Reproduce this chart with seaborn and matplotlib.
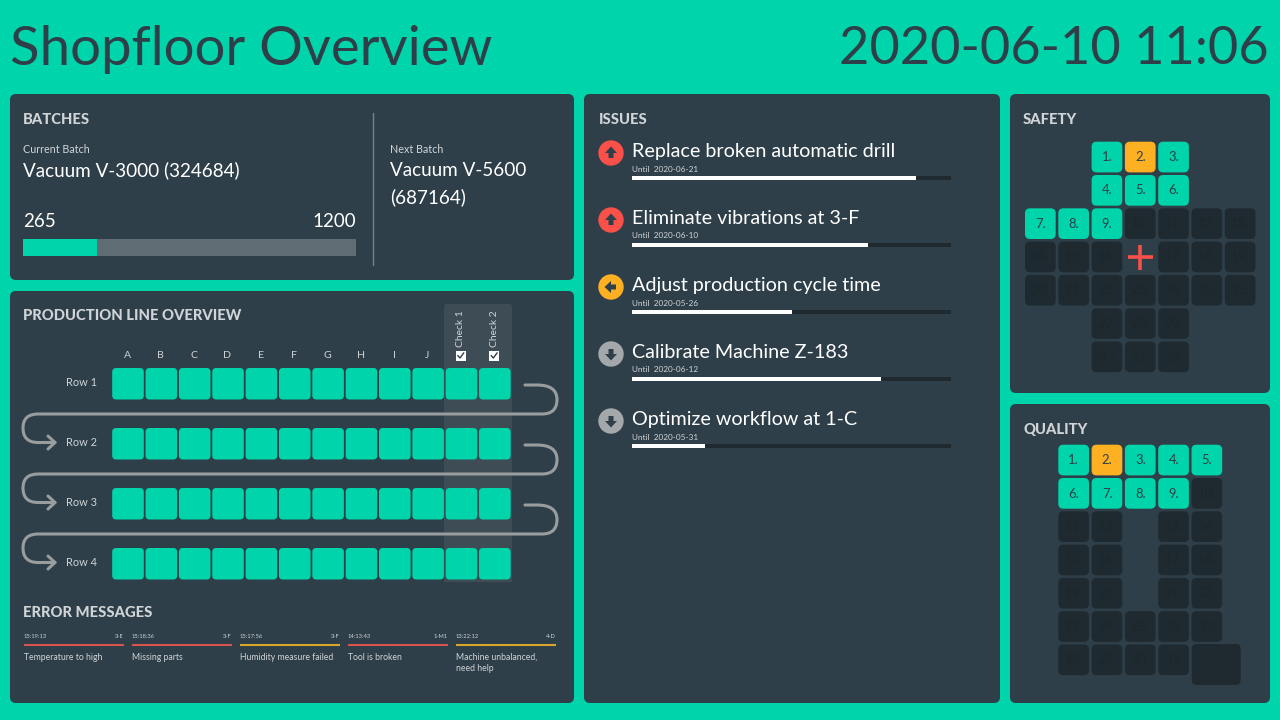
import matplotlib
matplotlib.use("Agg")
import matplotlib.pyplot as plt
import seaborn as sns
from matplotlib.patches import FancyBboxPatch, Circle, Polygon, PathPatch, Rectangle
from matplotlib.path import Path

# data
batch_done = 265
batch_total = 1200
columns = ["A", "B", "C", "D", "E", "F", "G", "H", "I", "J", "Check 1", "Check 2"]
row_names = ["Row 1", "Row 2", "Row 3", "Row 4"]
err_times = ["15:19:13", "15:18:36", "15:17:56", "14:13:43", "13:22:12"]
err_codes = ["3-E", "3-F", "3-F", "1-M1", "4-D"]
err_texts = ["Temperature to high", "Missing parts", "Humidity measure failed",
             "Tool is broken", "Machine unbalanced,\nneed help"]
err_levels = ["red", "red", "yellow", "red", "yellow"]
issue_names = ["Replace broken automatic drill", "Eliminate vibrations at 3-F",
               "Adjust production cycle time", "Calibrate Machine Z-183",
               "Optimize workflow at 1-C"]
issue_dates = ["2020-06-21", "2020-06-10", "2020-05-26", "2020-06-12", "2020-05-31"]
issue_progress = [89, 74, 50, 78, 23]
issue_prio = ["up", "up", "left", "down", "down"]
# g = ok, o = warning, d = not reached yet, + = marker, . = empty
safety_rows = ["..gog..", "..ggg..", "gggdddd", "ddd+ddd", "ddddddd", "..ddd..", "..ddd.."]
quality_rows = ["goggg", "ggggd", "dd.dd", "dd.dd", "dd.dd", "ddddd", "dddd."]

GREEN = "#00d4aa"
PANEL = "#2e3f49"
DARK = "#1f2a30"
ORANGE = "#fdb022"
RED = "#f9504a"
LIGHT = "#d0d4d6"
STYLE = {"g": GREEN, "o": ORANGE, "d": DARK}

sns.set_theme(style="white")
plt.rcParams["font.family"] = ["Lato", "DejaVu Sans"]

fig = plt.figure(figsize=(12.8, 7.2), dpi=100, facecolor=GREEN)
ax = fig.add_axes([0, 0, 1, 1])
ax.set_xlim(0, 1280)
ax.set_ylim(720, 0)
ax.axis("off")


def rbox(x, y, w, h, r, color, z=2):
    ax.add_patch(FancyBboxPatch((x + r, y + r), w - 2 * r, h - 2 * r,
                                boxstyle=f"round,pad={r},rounding_size={r}",
                                fc=color, ec="none", zorder=z))


def txt(x, y, s, px, color="white", ha="left", va="center", **kw):
    ax.text(x, y, s, fontsize=px * 0.72, color=color, ha=ha, va=va, zorder=6, **kw)


def inset(x0, y0, x1, y1):
    a = fig.add_axes([x0 / 1280, 1 - y1 / 720, (x1 - x0) / 1280, (y1 - y0) / 720])
    a.patch.set_alpha(0)
    return a


# panels
for x, y, w, h in [(10, 94, 564, 186), (10, 291, 564, 412), (584, 94, 416, 609),
                   (1010, 94, 260, 299), (1010, 404, 260, 299)]:
    rbox(x, y, w, h, 6, PANEL, 1)

txt(10, 50, "Shopfloor Overview", 54.5, PANEL)
txt(1269, 50, "2020-06-10 11:06", 52.3, PANEL, ha="right")

for x, y, s in [(23, 119.5, "BATCHES"), (23, 316, "PRODUCTION LINE OVERVIEW"), (23, 613, "ERROR MESSAGES"),
                (599, 119.5, "ISSUES"), (1023, 119.5, "SAFETY"), (1023, 429.5, "QUALITY")]:
    txt(x, y, s, 14.7, LIGHT, fontweight="black")

# batches
txt(23, 149.5, "Current Batch", 10.8, LIGHT)
txt(23, 170.5, "Vacuum V-3000 (324684)", 18.9)
txt(23, 221.5, str(batch_done), 18.8)
txt(356, 221.5, str(batch_total), 18.8, ha="right")
ax.plot([373, 373], [113, 265], color="#77838a", lw=1, zorder=3)
txt(390, 149.5, "Next Batch", 10.8, LIGHT)
txt(390, 170.5, "Vacuum V-5600", 18.9)
txt(390, 197, "(687164)", 18.9)

bax = inset(23, 239, 356, 256)
sns.barplot(x=[batch_total], y=["batch"], color="#5f6c73", width=1, saturation=1, linewidth=0, ax=bax)
sns.barplot(x=[batch_done], y=["batch"], color=GREEN, width=1, saturation=1, linewidth=0, ax=bax)
bax.set_xlim(0, batch_total)
bax.axis("off")

# production line
ax.add_patch(Rectangle((444, 310), 68, 272, fc="#3e4c56", ec="none", zorder=2))
rbox(444, 304, 68, 20, 3, "#3e4c56", 2)
for j, c in enumerate(columns):
    cx = 127.3 + j * 33.35
    if c.startswith("Check"):
        txt(cx, 329, c, 10.3, LIGHT, ha="center", rotation=90)
        ax.add_patch(Rectangle((cx - 5, 350.5), 10, 10, fc="white", ec="none", zorder=5))
        ax.plot([cx - 3, cx - 0.8, cx + 3], [355.5, 358, 352.8], color=PANEL, lw=1, zorder=6)
    else:
        txt(cx, 355.5, c, 10.5, LIGHT, ha="center")
for i, r in enumerate(row_names):
    ry = 368 + i * 60
    txt(97, ry + 14.5, r, 11, LIGHT, ha="right")
    for j in range(len(columns)):
        rbox(112.2 + j * 33.35, ry, 31.6, 31.5, 4, GREEN, 3)

# connectors between rows
for i in range(len(row_names) - 1):
    t = 385 + i * 60
    m = t + 29
    b = m + 28.5
    verts = [(525, t), (537, t), (557, t), (557, t + 14.5), (557, m), (542, m), (38, m),
             (23, m), (23, m + 14), (23, b), (38, b), (55, b)]
    codes = [Path.MOVETO, Path.LINETO, Path.CURVE3, Path.CURVE3, Path.CURVE3, Path.CURVE3, Path.LINETO,
             Path.CURVE3, Path.CURVE3, Path.CURVE3, Path.CURVE3, Path.LINETO]
    ax.add_patch(PathPatch(Path(verts, codes), fc="none", ec="#9a9d9e", lw=2.2, zorder=2.5, capstyle="round"))
    ax.plot([48, 55, 48], [b - 6.5, b, b + 6.5], color="#9a9d9e", lw=2.2, zorder=2.5)

# error messages
for i in range(len(err_times)):
    x = 24 + i * 108
    txt(x, 637, err_times[i], 5.8, LIGHT)
    txt(x + 100, 637, err_codes[i], 5.8, LIGHT, ha="right")
    ax.plot([x, x + 100], [645, 645], lw=1.5, solid_capstyle="butt", zorder=3,
            color="#d9534f" if err_levels[i] == "red" else "#d6a52c")
    txt(x, 657 if "\n" not in err_texts[i] else 662.5, err_texts[i], 8.6, LIGHT, linespacing=1.35, va="center")

# issues
iax = inset(632, 144.5, 951, 479.5)
sns.barplot(x=[100] * 5, y=issue_names, color=DARK, width=0.06, saturation=1, linewidth=0, ax=iax)
sns.barplot(x=issue_progress, y=issue_names, color="white", width=0.06, saturation=1, linewidth=0, ax=iax)
iax.set_xlim(0, 100)
iax.axis("off")

ARROW = [(0, -6.5), (6, 0), (2.5, 0), (2.5, 5), (-2.5, 5), (-2.5, 0), (-6, 0)]
ICONS = {"up": (RED, lambda p, q: (p, q)), "left": (ORANGE, lambda p, q: (q, -p)), "down": ("#a4a8aa", lambda p, q: (p, -q))}
for i, name in enumerate(issue_names):
    y = 150 + i * 67
    col, rot = ICONS[issue_prio[i]]
    ax.add_patch(Circle((611, y + 3), 12.7, fc=col, ec="none", zorder=3))
    pts = [(611 + rot(p, q)[0], y + 3 + rot(p, q)[1]) for p, q in ARROW]
    ax.add_patch(Polygon(pts, fc=PANEL, ec="none", zorder=4))
    txt(632.5, y + 1, name, 19.8)
    txt(632.5, y + 19, "Until  " + issue_dates[i], 8.3, LIGHT)


# safety and quality crosses
def tiles(rows, x0, y0):
    n = 1
    for i, row in enumerate(rows):
        for j, s in enumerate(row):
            x = x0 + j * 33.3
            y = y0 + i * 33.3
            if s == "+":
                ax.plot([x + 3, x + 28], [y + 15.5, y + 15.5], color=RED, lw=2.6, solid_capstyle="butt", zorder=4)
                ax.plot([x + 15.5, x + 15.5], [y + 3, y + 28], color=RED, lw=2.6, solid_capstyle="butt", zorder=4)
            elif s != ".":
                rbox(x, y, 30.7, 30.7, 5, STYLE[s], 3)
                c = PANEL if s != "d" else "#1c262b"
                txt(x + 15.5, y + 15.5, f"{n}.", 13, c, ha="center")
                n += 1


tiles(safety_rows, 1025, 141.7)
tiles(quality_rows, 1058.3, 444.7)
rbox(1191.7, 644, 49, 41, 5, DARK, 3)

plt.savefig("out.png", dpi=100, facecolor=GREEN)
